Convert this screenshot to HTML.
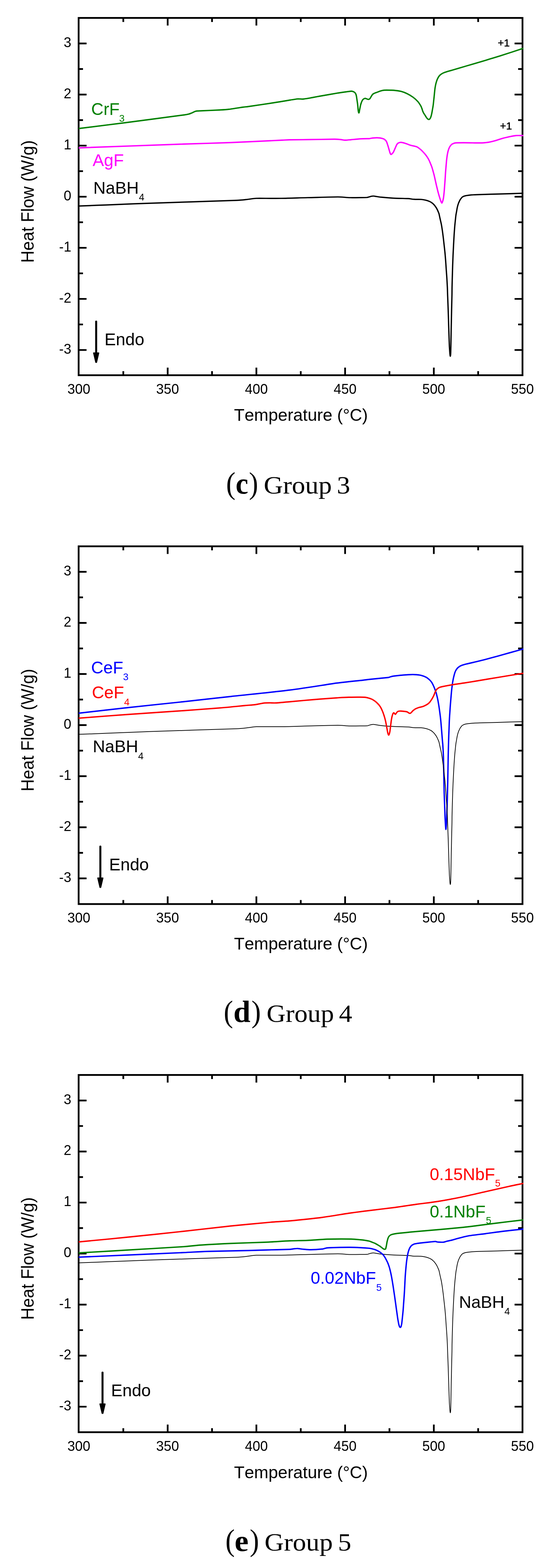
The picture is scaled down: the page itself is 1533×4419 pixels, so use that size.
<!DOCTYPE html>
<html lang="en"><head><meta charset="utf-8"><title>DSC heat flow curves</title>
<style>
html,body{margin:0;padding:0;background:#fff}
body{width:1533px;height:4419px;overflow:hidden}
svg{display:block}
.sa{font-family:"Liberation Sans",sans-serif;font-kerning:none}
.se{font-family:"Liberation Serif",serif;font-kerning:none}
.seb{font-family:"Liberation Serif",serif;font-kerning:none;font-weight:bold}
</style></head><body>
<svg width="1533" height="4419" viewBox="0 0 1533 4419">
<rect width="1533" height="4419" fill="#fff"/>
<g id="chart-c">
<rect x="221.60" y="50.50" width="1250.80" height="1007.00" fill="none" stroke="#000" stroke-width="5.0"/>
<path d="M347.50 1057.50v-11.40M347.50 50.50v11.40M472.50 1057.50v-21.60M472.50 50.50v21.60M597.50 1057.50v-11.40M597.50 50.50v11.40M722.50 1057.50v-21.60M722.50 50.50v21.60M847.50 1057.50v-11.40M847.50 50.50v11.40M972.50 1057.50v-21.60M972.50 50.50v21.60M1097.50 1057.50v-11.40M1097.50 50.50v11.40M1222.50 1057.50v-21.60M1222.50 50.50v21.60M1347.50 1057.50v-11.40M1347.50 50.50v11.40M221.60 986.39h22.30M1472.40 986.39h-22.30M221.60 914.39h12.30M1472.40 914.39h-12.30M221.60 842.40h22.30M1472.40 842.40h-22.30M221.60 770.40h12.30M1472.40 770.40h-12.30M221.60 698.41h22.30M1472.40 698.41h-22.30M221.60 626.41h12.30M1472.40 626.41h-12.30M221.60 554.42h22.30M1472.40 554.42h-22.30M221.60 482.42h12.30M1472.40 482.42h-12.30M221.60 410.42h22.30M1472.40 410.42h-22.30M221.60 338.43h12.30M1472.40 338.43h-12.30M221.60 266.43h22.30M1472.40 266.43h-22.30M221.60 194.44h12.30M1472.40 194.44h-12.30M221.60 122.44h22.30M1472.40 122.44h-22.30" fill="none" stroke="#000" stroke-width="4.9"/>
<text class="sa" transform="translate(189.97 1109.70) scale(0.9578 1)" font-size="40.30">300</text>
<text class="sa" transform="translate(439.97 1109.70) scale(0.9578 1)" font-size="40.30">350</text>
<text class="sa" transform="translate(690.26 1109.70) scale(0.9578 1)" font-size="40.30">400</text>
<text class="sa" transform="translate(940.26 1109.70) scale(0.9578 1)" font-size="40.30">450</text>
<text class="sa" transform="translate(1189.97 1109.70) scale(0.9578 1)" font-size="40.30">500</text>
<text class="sa" transform="translate(1439.97 1109.70) scale(0.9578 1)" font-size="40.30">550</text>
<text class="sa" transform="translate(200.90 996.59) scale(0.9578 1)" text-anchor="end" font-size="40.30">-3</text>
<text class="sa" transform="translate(200.90 852.60) scale(0.9578 1)" text-anchor="end" font-size="40.30">-2</text>
<text class="sa" transform="translate(200.90 708.61) scale(0.9578 1)" text-anchor="end" font-size="40.30">-1</text>
<text class="sa" transform="translate(200.90 564.62) scale(0.9578 1)" text-anchor="end" font-size="40.30">0</text>
<text class="sa" transform="translate(200.90 420.62) scale(0.9578 1)" text-anchor="end" font-size="40.30">1</text>
<text class="sa" transform="translate(200.90 276.63) scale(0.9578 1)" text-anchor="end" font-size="40.30">2</text>
<text class="sa" transform="translate(200.90 132.64) scale(0.9578 1)" text-anchor="end" font-size="40.30">3</text>
<text class="sa" transform="translate(659.59 1186.10) scale(0.9880 1)" font-size="49.00">Temperature (°C)</text>
<text class="sa" transform="translate(95.00 740.73) rotate(-90) scale(0.9667 1)" font-size="49.50">Heat Flow (W/g)</text>
<path d="M221.6 580.6C234.7 580.1 273.9 578.6 300.0 577.6C326.1 576.6 380.0 574.2 420.0 572.8C460.0 571.4 657.0 565.1 667.0 564.7C677.0 564.3 688.7 562.9 697.0 562.0C705.3 561.1 713.6 559.3 722.0 559.0C730.4 558.7 768.7 559.3 792.0 559.0C815.3 558.7 842.0 557.6 867.0 557.0C892.0 556.4 940.3 555.0 952.0 555.0C963.7 555.0 975.3 556.8 987.0 557.0C998.7 557.2 1032.6 556.6 1034.5 556.5C1036.4 556.4 1038.2 555.5 1040.0 555.0C1041.8 554.5 1044.0 553.7 1046.0 553.3C1048.0 552.9 1050.0 552.5 1052.0 552.5C1054.0 552.5 1056.0 553.0 1058.0 553.3C1060.0 553.6 1068.2 555.2 1073.3 555.7C1078.4 556.2 1095.5 557.7 1106.7 558.3C1117.9 558.9 1144.4 559.4 1150.0 559.7C1155.6 560.0 1161.1 561.3 1166.7 561.7C1172.3 562.1 1182.2 561.7 1186.7 562.0C1191.2 562.3 1196.7 563.4 1200.1 564.2C1203.5 565.0 1208.4 566.9 1210.1 567.6C1211.8 568.3 1213.5 569.2 1215.0 570.2C1216.5 571.2 1218.0 572.2 1219.4 573.4C1220.8 574.6 1222.1 575.9 1223.3 577.3C1224.5 578.7 1225.8 580.3 1226.9 581.8C1228.0 583.3 1229.1 584.9 1230.0 586.5C1230.9 588.1 1232.0 590.2 1232.8 591.9C1233.6 593.6 1234.3 595.3 1235.0 597.0C1235.7 598.7 1236.5 600.3 1237.0 602.0C1237.5 603.7 1239.2 612.0 1240.3 617.0C1241.4 622.0 1242.7 627.1 1243.7 632.1C1244.7 637.1 1245.4 642.2 1246.2 647.2C1247.0 652.2 1247.9 659.5 1248.7 665.7C1249.5 671.9 1250.4 680.2 1251.2 687.5C1252.0 694.8 1253.0 703.2 1253.8 711.0C1254.6 718.8 1255.2 726.7 1255.8 734.5C1256.4 742.3 1256.9 750.2 1257.4 758.0C1257.9 765.8 1258.6 773.7 1259.1 781.5C1259.6 789.3 1260.2 800.4 1260.6 808.3C1261.0 816.2 1261.1 824.1 1261.4 832.0C1261.7 839.9 1262.5 859.9 1263.0 873.9C1263.5 887.9 1263.9 902.7 1264.3 915.8C1264.7 928.9 1265.3 947.3 1265.6 955.0C1265.9 962.7 1266.2 973.0 1266.5 978.0C1266.8 983.0 1267.3 990.2 1267.5 993.0C1267.7 995.8 1268.3 1000.7 1268.4 1001.5C1268.5 1002.3 1268.8 1003.8 1269.0 1003.8C1269.2 1003.8 1269.5 1002.3 1269.6 1001.5C1269.7 1000.7 1270.1 994.7 1270.2 991.3C1270.3 987.9 1270.7 969.0 1270.9 957.8C1271.1 946.6 1271.4 929.8 1271.7 915.8C1272.0 901.8 1272.3 887.9 1272.6 873.9C1272.9 859.9 1273.4 839.9 1273.6 832.0C1273.8 824.1 1273.7 816.2 1273.9 808.3C1274.1 800.4 1274.4 788.2 1274.7 778.1C1275.0 768.0 1275.3 757.4 1275.6 747.9C1275.9 738.4 1276.3 728.9 1276.7 719.4C1277.1 709.9 1277.6 700.4 1278.1 690.9C1278.6 681.4 1279.3 668.0 1279.8 660.7C1280.3 653.4 1280.8 646.2 1281.4 638.9C1282.0 631.6 1283.2 621.0 1283.6 617.0C1284.0 613.0 1284.6 607.7 1285.0 605.0C1285.4 602.3 1286.0 599.6 1286.5 596.9C1287.0 594.2 1287.5 590.7 1288.0 588.0C1288.5 585.3 1289.2 582.3 1289.8 580.1C1290.4 577.9 1291.2 575.2 1291.8 573.5C1292.4 571.8 1293.2 570.1 1294.0 568.4C1294.8 566.7 1295.7 564.6 1296.7 563.0C1297.7 561.4 1299.1 559.4 1300.0 558.3C1300.9 557.2 1301.9 556.1 1303.0 555.3C1304.1 554.5 1305.4 553.8 1306.7 553.3C1308.0 552.8 1310.2 552.0 1312.0 551.6C1313.8 551.2 1316.2 550.9 1318.3 550.6C1320.4 550.3 1324.8 549.7 1328.0 549.4C1331.2 549.1 1334.7 549.0 1338.0 548.8C1341.3 548.6 1347.1 548.4 1351.7 548.3C1356.3 548.2 1385.0 547.4 1401.7 546.9C1418.4 546.4 1462.6 545.1 1474.8 544.7" fill="none" stroke="#000" stroke-width="3.7" stroke-linejoin="round"/>
<path d="M221.6 416.7C271.0 414.9 473.6 407.6 518.0 406.0C562.4 404.4 606.9 403.5 651.3 401.7C695.7 399.9 788.0 395.3 795.0 395.0C802.0 394.7 809.0 394.1 816.0 394.0C823.0 393.9 856.0 393.6 876.0 393.3C896.0 393.0 937.2 392.3 942.7 392.3C948.2 392.3 954.8 392.9 959.3 393.3C963.8 393.7 968.2 394.9 972.7 395.0C977.2 395.1 983.8 394.2 989.3 393.7C994.8 393.2 1008.0 391.8 1016.0 391.3C1024.0 390.8 1038.0 390.8 1040.0 390.7C1042.0 390.6 1044.0 389.9 1046.0 389.6C1048.0 389.3 1050.9 388.9 1053.3 388.7C1055.7 388.5 1059.3 388.3 1062.0 388.3C1064.7 388.3 1068.0 388.5 1070.0 388.7C1072.0 388.9 1074.1 389.3 1076.0 389.8C1077.9 390.3 1080.1 390.9 1081.7 391.7C1083.3 392.5 1084.7 393.7 1086.0 395.0C1087.3 396.3 1088.5 397.7 1089.3 399.3C1090.1 400.9 1090.8 403.4 1091.5 405.5C1092.2 407.6 1093.2 410.7 1094.0 413.3C1094.8 415.9 1095.5 418.6 1096.2 421.0C1096.9 423.4 1097.8 426.7 1098.3 428.3C1098.8 429.9 1099.6 432.1 1100.0 433.0C1100.4 433.9 1101.0 435.1 1101.7 435.3C1102.4 435.5 1103.3 434.5 1104.0 434.0C1104.7 433.5 1105.4 432.7 1106.0 432.0C1106.6 431.3 1107.7 430.3 1108.3 429.3C1108.9 428.3 1110.0 425.8 1110.8 424.0C1111.6 422.2 1112.5 420.2 1113.3 418.3C1114.1 416.4 1115.0 414.3 1115.8 412.5C1116.6 410.7 1117.7 408.3 1118.3 407.3C1118.9 406.3 1119.7 405.3 1120.5 404.5C1121.3 403.7 1122.3 403.2 1123.3 402.7C1124.3 402.2 1125.4 401.8 1126.5 401.6C1127.6 401.4 1128.8 401.2 1130.0 401.3C1131.2 401.4 1133.3 401.7 1135.0 402.0C1136.7 402.3 1138.4 402.8 1140.0 403.3C1141.6 403.8 1145.4 405.0 1148.0 406.0C1150.6 407.0 1153.7 408.4 1156.7 409.3C1159.7 410.2 1163.0 410.7 1166.0 411.5C1169.0 412.3 1172.8 413.0 1175.0 414.0C1177.2 415.0 1179.1 416.6 1181.0 418.0C1182.9 419.4 1184.9 421.0 1186.7 422.7C1188.5 424.4 1190.6 426.5 1192.5 428.5C1194.4 430.5 1196.5 432.8 1198.3 435.0C1200.1 437.2 1201.9 439.6 1203.5 442.0C1205.1 444.4 1206.9 447.2 1208.3 450.0C1209.7 452.8 1211.2 456.3 1212.5 459.5C1213.8 462.7 1215.5 466.4 1216.7 470.0C1217.9 473.6 1219.0 477.3 1220.0 481.0C1221.0 484.7 1222.3 489.2 1223.3 493.3C1224.3 497.4 1225.3 502.1 1226.3 506.5C1227.3 510.9 1228.4 516.0 1229.3 520.0C1230.2 524.0 1231.3 528.2 1232.2 532.0C1233.1 535.8 1234.2 540.4 1235.0 543.3C1235.8 546.2 1236.7 549.3 1237.5 552.0C1238.3 554.7 1239.2 557.5 1240.0 560.0C1240.8 562.5 1241.8 565.9 1242.5 567.5C1243.2 569.1 1244.2 572.0 1245.0 572.2C1245.8 572.4 1246.5 569.8 1247.0 568.5C1247.5 567.2 1248.7 562.9 1249.3 560.0C1249.9 557.1 1250.4 552.7 1250.8 549.0C1251.2 545.3 1251.7 540.8 1252.0 536.7C1252.3 532.6 1252.7 527.3 1253.0 523.0C1253.3 518.7 1253.7 514.3 1254.0 510.0C1254.3 505.7 1254.7 500.0 1255.0 495.0C1255.3 490.0 1255.6 484.7 1256.0 480.0C1256.4 475.3 1256.8 470.2 1257.2 466.0C1257.6 461.8 1257.9 457.4 1258.3 453.3C1258.7 449.2 1259.3 444.7 1259.8 441.0C1260.3 437.3 1261.1 432.9 1261.7 430.0C1262.3 427.1 1263.3 423.7 1264.0 421.5C1264.7 419.3 1265.8 416.8 1266.7 415.0C1267.6 413.2 1269.0 411.2 1270.0 410.0C1271.0 408.8 1272.0 407.6 1273.3 406.7C1274.6 405.8 1276.4 404.9 1278.0 404.2C1279.6 403.5 1281.5 402.8 1283.3 402.7C1285.1 402.6 1298.9 402.3 1306.7 402.3C1314.5 402.3 1331.2 402.6 1338.0 402.7C1344.8 402.8 1355.1 402.8 1358.3 402.7C1361.5 402.6 1364.8 402.3 1368.0 402.0C1371.2 401.7 1374.9 401.4 1378.3 400.7C1381.7 400.0 1389.5 398.3 1395.0 396.7C1400.5 395.1 1410.6 391.4 1418.3 389.3C1426.0 387.2 1437.3 384.9 1441.7 384.0C1446.1 383.1 1450.5 382.3 1455.0 382.0C1459.5 381.7 1471.5 382.0 1474.8 382.0" fill="none" stroke="#ff00ff" stroke-width="3.9" stroke-linejoin="round"/>
<path d="M221.6 362.3C243.6 359.5 309.4 351.4 353.3 345.7C397.2 340.0 513.5 324.6 518.0 324.0C522.5 323.4 528.3 322.4 531.3 321.7C534.3 321.0 537.1 319.7 540.0 318.5C542.9 317.3 547.7 314.7 549.7 314.0C551.7 313.3 553.9 313.0 556.0 312.8C558.1 312.6 564.0 312.5 568.0 312.3C572.0 312.1 609.1 310.5 618.0 310.0C626.9 309.5 635.8 309.1 644.7 308.0C653.6 306.9 679.6 302.7 684.7 302.0C689.8 301.3 694.9 301.0 700.0 300.3C705.1 299.6 750.2 292.9 767.0 290.3C783.8 287.7 813.9 282.6 817.4 282.0C820.9 281.4 824.7 280.9 828.0 280.4C831.3 279.9 835.3 279.1 838.0 278.9C840.7 278.7 843.3 278.9 846.0 278.9C848.7 278.9 851.3 279.4 854.0 279.2C856.7 279.0 862.0 278.2 866.0 277.6C870.0 277.0 875.3 275.9 880.0 275.0C884.7 274.1 894.2 272.3 901.3 271.0C908.4 269.7 940.4 264.2 949.3 262.7C958.2 261.2 971.6 259.3 976.0 258.7C980.4 258.1 987.7 257.1 989.3 257.0C990.9 256.9 992.7 257.2 994.0 257.6C995.3 258.0 996.7 258.7 997.7 259.3C998.7 259.9 999.7 260.6 1000.5 261.5C1001.3 262.4 1002.2 263.7 1002.7 265.0C1003.2 266.3 1003.8 268.3 1004.2 270.0C1004.6 271.7 1005.0 274.5 1005.3 276.7C1005.6 278.9 1007.0 287.8 1007.7 293.3C1008.4 298.9 1009.1 308.0 1009.3 310.0C1009.5 312.0 1010.1 315.2 1010.3 316.0C1010.5 316.8 1011.0 318.3 1011.3 318.3C1011.6 318.3 1012.1 316.8 1012.3 316.0C1012.5 315.2 1012.9 312.0 1013.3 310.0C1013.7 308.0 1015.5 299.0 1016.0 296.7C1016.5 294.4 1017.4 291.7 1018.0 290.0C1018.6 288.3 1019.4 286.2 1020.0 285.0C1020.6 283.8 1021.4 282.3 1022.0 281.5C1022.6 280.7 1023.5 279.9 1024.3 279.3C1025.1 278.7 1026.3 278.1 1027.0 277.8C1027.7 277.5 1028.5 277.3 1029.3 277.3C1030.1 277.3 1031.2 277.7 1032.0 278.0C1032.8 278.3 1033.5 278.7 1034.3 279.0C1035.1 279.3 1036.2 279.8 1037.0 280.0C1037.8 280.2 1038.6 280.2 1039.3 280.0C1040.0 279.8 1040.9 279.3 1041.5 278.8C1042.1 278.3 1042.8 277.5 1043.3 276.7C1043.8 275.9 1047.0 270.4 1047.7 269.3C1048.4 268.2 1049.2 266.8 1050.0 266.0C1050.8 265.2 1051.7 264.6 1052.7 264.0C1053.7 263.4 1055.5 262.6 1057.0 262.0C1058.5 261.4 1060.8 260.7 1062.7 260.0C1064.6 259.3 1066.9 258.3 1069.0 257.5C1071.1 256.7 1074.0 255.8 1076.0 255.3C1078.0 254.8 1080.0 254.5 1082.0 254.3C1084.0 254.1 1086.9 254.0 1089.3 254.0C1091.7 254.0 1098.0 254.0 1102.0 254.2C1106.0 254.4 1110.0 254.5 1114.0 255.0C1118.0 255.5 1125.3 256.2 1130.7 257.7C1136.1 259.2 1142.0 261.4 1147.3 264.0C1152.6 266.6 1159.2 270.5 1164.0 274.0C1168.8 277.5 1174.0 282.3 1177.3 286.0C1180.6 289.7 1184.3 295.9 1185.7 298.3C1187.1 300.7 1188.1 303.6 1189.0 306.0C1189.9 308.4 1190.5 311.3 1191.3 313.3C1192.1 315.3 1193.0 317.3 1194.0 319.0C1195.0 320.7 1196.2 322.3 1197.3 324.0C1198.4 325.7 1200.1 328.6 1201.0 330.0C1201.9 331.4 1203.3 333.2 1204.0 334.0C1204.7 334.8 1206.0 335.9 1206.5 336.2C1207.0 336.5 1207.7 336.8 1208.3 336.7C1208.9 336.6 1209.9 336.4 1210.5 335.8C1211.1 335.2 1212.6 333.2 1213.3 331.7C1214.0 330.2 1214.9 327.3 1215.5 325.0C1216.1 322.7 1216.8 319.5 1217.3 316.7C1217.8 313.9 1218.4 310.2 1219.0 307.0C1219.6 303.8 1220.2 300.1 1220.7 296.7C1221.2 293.3 1221.6 288.9 1222.0 285.0C1222.4 281.1 1222.9 277.2 1223.3 273.3C1223.7 269.4 1224.1 264.7 1224.5 261.0C1224.9 257.3 1225.3 253.0 1225.7 250.0C1226.1 247.0 1226.7 243.6 1227.2 241.0C1227.7 238.4 1228.3 235.8 1229.0 233.3C1229.7 230.8 1230.5 228.1 1231.3 226.0C1232.1 223.9 1233.1 221.7 1234.0 220.0C1234.9 218.3 1235.9 216.5 1237.0 215.0C1238.1 213.5 1239.4 212.2 1240.7 211.0C1242.0 209.8 1243.5 208.7 1245.0 207.8C1246.5 206.9 1248.7 205.8 1250.7 205.0C1252.7 204.2 1254.9 203.5 1257.0 202.8C1259.1 202.1 1261.7 201.4 1264.0 200.7C1266.3 200.0 1297.3 190.9 1314.0 186.0C1330.7 181.1 1348.0 176.1 1364.0 171.3C1380.0 166.5 1396.1 161.7 1412.0 156.7C1427.9 151.7 1464.3 139.6 1474.8 136.2" fill="none" stroke="#008000" stroke-width="3.9" stroke-linejoin="round"/>
<text class="sa" transform="translate(257.10 323.50) scale(0.9796 1)" font-size="49.00" fill="#008000">CrF<tspan x="80.33" y="19.00" font-size="28.20">3</tspan></text>
<text class="sa" transform="translate(261.06 468.20) scale(0.9796 1)" font-size="49.00" fill="#ff00ff">AgF</text>
<text class="sa" transform="translate(263.06 545.50) scale(0.9796 1)" font-size="49.00">NaBH<tspan x="131.13" y="19.40" font-size="28.20">4</tspan></text>
<text class="sa" transform="translate(1402.72 130.80) scale(1.0034 1)" font-size="29.50" stroke="#000" stroke-width="0.7">+1</text>
<text class="sa" transform="translate(1408.92 364.70) scale(1.0034 1)" font-size="29.50" stroke="#000" stroke-width="0.7">+1</text>
<path d="M271.00 906.20V999.20" stroke="#000" stroke-width="5.6" stroke-linecap="round" fill="none"/>
<path d="M263.80 994.70H278.20L272.00 1021.20H270.00Z" fill="#000" stroke="#000" stroke-width="3" stroke-linejoin="round"/>
<text class="sa" transform="translate(294.56 972.80) scale(0.9796 1)" font-size="49.00">Endo</text>
<text class="se" transform="translate(637.14 1390.58) scale(0.9129 1)" font-size="86.78">(</text>
<text class="seb" transform="translate(664.09 1391.45) scale(0.9396 1)" font-size="85.42">c</text>
<text class="se" transform="translate(701.47 1390.58) scale(0.8953 1)" font-size="86.78">)</text>
<text class="se" transform="translate(743.30 1391.20) scale(1.0648 1)" font-size="70.50" style="word-spacing:-0.06em">Group 3</text>
</g>
<g id="chart-d">
<rect x="221.60" y="1539.65" width="1250.80" height="1008.20" fill="none" stroke="#000" stroke-width="5.0"/>
<path d="M347.50 2547.85v-11.40M347.50 1539.65v11.40M472.50 2547.85v-21.60M472.50 1539.65v21.60M597.50 2547.85v-11.40M597.50 1539.65v11.40M722.50 2547.85v-21.60M722.50 1539.65v21.60M847.50 2547.85v-11.40M847.50 1539.65v11.40M972.50 2547.85v-21.60M972.50 1539.65v21.60M1097.50 2547.85v-11.40M1097.50 1539.65v11.40M1222.50 2547.85v-21.60M1222.50 1539.65v21.60M1347.50 2547.85v-11.40M1347.50 1539.65v11.40M221.60 2475.44h22.30M1472.40 2475.44h-22.30M221.60 2403.44h12.30M1472.40 2403.44h-12.30M221.60 2331.44h22.30M1472.40 2331.44h-22.30M221.60 2259.44h12.30M1472.40 2259.44h-12.30M221.60 2187.44h22.30M1472.40 2187.44h-22.30M221.60 2115.44h12.30M1472.40 2115.44h-12.30M221.60 2043.44h22.30M1472.40 2043.44h-22.30M221.60 1971.44h12.30M1472.40 1971.44h-12.30M221.60 1899.44h22.30M1472.40 1899.44h-22.30M221.60 1827.44h12.30M1472.40 1827.44h-12.30M221.60 1755.44h22.30M1472.40 1755.44h-22.30M221.60 1683.44h12.30M1472.40 1683.44h-12.30M221.60 1611.44h22.30M1472.40 1611.44h-22.30" fill="none" stroke="#000" stroke-width="4.9"/>
<text class="sa" transform="translate(189.97 2600.05) scale(0.9578 1)" font-size="40.30">300</text>
<text class="sa" transform="translate(439.97 2600.05) scale(0.9578 1)" font-size="40.30">350</text>
<text class="sa" transform="translate(690.26 2600.05) scale(0.9578 1)" font-size="40.30">400</text>
<text class="sa" transform="translate(940.26 2600.05) scale(0.9578 1)" font-size="40.30">450</text>
<text class="sa" transform="translate(1189.97 2600.05) scale(0.9578 1)" font-size="40.30">500</text>
<text class="sa" transform="translate(1439.97 2600.05) scale(0.9578 1)" font-size="40.30">550</text>
<text class="sa" transform="translate(200.90 2485.64) scale(0.9578 1)" text-anchor="end" font-size="40.30">-3</text>
<text class="sa" transform="translate(200.90 2341.64) scale(0.9578 1)" text-anchor="end" font-size="40.30">-2</text>
<text class="sa" transform="translate(200.90 2197.64) scale(0.9578 1)" text-anchor="end" font-size="40.30">-1</text>
<text class="sa" transform="translate(200.90 2053.64) scale(0.9578 1)" text-anchor="end" font-size="40.30">0</text>
<text class="sa" transform="translate(200.90 1909.64) scale(0.9578 1)" text-anchor="end" font-size="40.30">1</text>
<text class="sa" transform="translate(200.90 1765.64) scale(0.9578 1)" text-anchor="end" font-size="40.30">2</text>
<text class="sa" transform="translate(200.90 1621.64) scale(0.9578 1)" text-anchor="end" font-size="40.30">3</text>
<text class="sa" transform="translate(659.59 2676.45) scale(0.9880 1)" font-size="49.00">Temperature (°C)</text>
<text class="sa" transform="translate(95.00 2230.48) rotate(-90) scale(0.9667 1)" font-size="49.50">Heat Flow (W/g)</text>
<path d="M221.6 2010.0C243.6 2007.5 309.4 1999.8 353.3 1995.0C397.2 1990.2 473.6 1982.3 518.0 1977.5C562.4 1972.7 606.9 1967.6 651.3 1962.7C695.7 1957.8 771.4 1950.4 816.0 1944.8C860.6 1939.2 924.9 1928.3 949.3 1925.0C973.7 1921.7 1016.9 1917.7 1022.7 1917.0C1028.5 1916.3 1034.2 1915.3 1040.0 1914.7C1045.8 1914.1 1093.2 1909.5 1095.0 1909.3C1096.8 1909.1 1098.3 1908.0 1100.0 1907.5C1101.7 1907.0 1104.4 1906.0 1106.7 1905.7C1109.0 1905.4 1127.7 1903.2 1133.3 1902.7C1138.9 1902.2 1145.6 1901.8 1150.0 1901.5C1154.4 1901.2 1159.7 1901.0 1163.3 1901.0C1166.9 1901.0 1170.9 1901.2 1174.0 1901.5C1177.1 1901.8 1181.0 1902.3 1183.3 1902.7C1185.6 1903.1 1187.8 1903.6 1190.0 1904.3C1192.2 1905.0 1194.9 1905.9 1196.7 1906.7C1198.5 1907.5 1200.3 1908.3 1202.0 1909.3C1203.7 1910.3 1205.2 1911.5 1206.7 1912.7C1208.2 1913.9 1210.4 1915.8 1212.0 1917.5C1213.6 1919.2 1215.4 1921.4 1216.7 1923.3C1218.0 1925.2 1219.0 1927.4 1220.0 1929.5C1221.0 1931.6 1222.3 1934.3 1223.3 1936.7C1224.3 1939.1 1225.4 1941.9 1226.3 1944.5C1227.2 1947.1 1228.4 1950.3 1229.3 1953.3C1230.2 1956.3 1230.9 1959.8 1231.7 1963.0C1232.5 1966.2 1233.3 1969.8 1234.0 1973.3C1234.7 1976.8 1235.5 1981.8 1236.2 1986.0C1236.9 1990.2 1237.7 1995.3 1238.3 2000.0C1238.9 2004.7 1240.8 2017.8 1241.7 2026.7C1242.6 2035.6 1243.5 2046.7 1244.3 2056.7C1245.1 2066.7 1246.3 2082.3 1246.7 2086.7C1247.1 2091.1 1247.6 2095.6 1247.9 2100.0C1248.2 2104.4 1249.2 2122.4 1249.6 2133.6C1250.0 2144.8 1250.4 2167.1 1250.7 2183.9C1251.0 2200.7 1251.4 2223.0 1251.7 2234.2C1252.0 2245.4 1252.5 2256.6 1252.9 2267.8C1253.3 2279.0 1253.8 2293.2 1254.1 2301.3C1254.4 2309.4 1255.2 2322.3 1255.4 2325.5C1255.6 2328.7 1256.1 2334.4 1256.2 2335.2C1256.3 2336.0 1256.5 2337.5 1256.6 2337.5C1256.7 2337.5 1256.9 2336.0 1257.0 2335.2C1257.1 2334.4 1257.6 2328.7 1257.8 2325.5C1258.0 2322.3 1258.5 2309.4 1258.8 2301.3C1259.1 2293.2 1259.7 2279.0 1260.1 2267.8C1260.5 2256.6 1260.7 2245.4 1261.0 2234.2C1261.3 2223.0 1261.8 2200.7 1262.1 2183.9C1262.4 2167.1 1262.8 2144.8 1263.0 2133.6C1263.2 2122.4 1263.6 2107.8 1263.8 2100.0C1264.0 2092.2 1264.3 2083.4 1264.5 2076.7C1264.7 2070.0 1265.0 2063.4 1265.3 2056.7C1265.6 2050.0 1266.0 2035.6 1266.3 2030.0C1266.6 2024.4 1266.9 2018.9 1267.3 2013.3C1267.7 2007.7 1268.2 2000.0 1268.6 1994.0C1269.0 1988.0 1269.5 1982.0 1270.0 1976.0C1270.5 1970.0 1271.1 1962.7 1271.6 1957.0C1272.1 1951.3 1272.7 1945.0 1273.3 1940.0C1273.9 1935.0 1274.6 1928.9 1275.2 1925.0C1275.8 1921.1 1276.7 1916.4 1277.3 1913.3C1277.9 1910.2 1278.8 1906.6 1279.5 1904.0C1280.2 1901.4 1281.1 1898.1 1281.7 1896.2C1282.3 1894.3 1283.2 1892.1 1284.0 1890.5C1284.8 1888.9 1285.7 1887.4 1286.7 1886.0C1287.7 1884.6 1289.0 1883.0 1290.0 1882.0C1291.0 1881.0 1292.1 1880.1 1293.3 1879.3C1294.5 1878.5 1296.4 1877.3 1298.0 1876.5C1299.6 1875.7 1301.5 1874.9 1303.3 1874.3C1305.1 1873.7 1307.7 1872.9 1310.0 1872.3C1312.3 1871.7 1316.7 1870.8 1320.0 1870.0C1323.3 1869.2 1330.0 1867.7 1335.0 1866.5C1340.0 1865.3 1357.2 1861.2 1368.3 1858.3C1379.4 1855.4 1390.6 1852.3 1401.7 1849.3C1412.8 1846.3 1423.9 1843.1 1435.0 1840.0C1446.1 1836.9 1468.2 1830.7 1474.8 1828.8" fill="none" stroke="#0000ff" stroke-width="3.9" stroke-linejoin="round"/>
<path d="M221.6 2069.6C234.7 2069.1 273.9 2067.7 300.0 2066.6C326.1 2065.6 380.0 2063.2 420.0 2061.8C460.0 2060.4 657.0 2054.1 667.0 2053.7C677.0 2053.3 688.7 2051.9 697.0 2051.0C705.3 2050.2 713.6 2048.3 722.0 2048.0C730.4 2047.8 768.7 2048.3 792.0 2048.0C815.3 2047.7 842.0 2046.7 867.0 2046.0C892.0 2045.4 940.3 2044.0 952.0 2044.0C963.7 2044.0 975.3 2045.8 987.0 2046.0C998.7 2046.2 1032.6 2045.6 1034.5 2045.5C1036.4 2045.5 1038.2 2044.5 1040.0 2044.0C1041.8 2043.5 1044.0 2042.7 1046.0 2042.3C1048.0 2041.9 1050.0 2041.5 1052.0 2041.5C1054.0 2041.5 1056.0 2042.0 1058.0 2042.3C1060.0 2042.6 1068.2 2044.2 1073.3 2044.7C1078.4 2045.3 1095.5 2046.7 1106.7 2047.3C1117.9 2047.9 1144.4 2048.4 1150.0 2048.7C1155.6 2049.0 1161.1 2050.4 1166.7 2050.7C1172.3 2051.1 1182.2 2050.7 1186.7 2051.0C1191.2 2051.4 1196.7 2052.4 1200.1 2053.2C1203.5 2054.0 1208.4 2055.9 1210.1 2056.6C1211.8 2057.3 1213.5 2058.3 1215.0 2059.2C1216.5 2060.2 1218.0 2061.2 1219.4 2062.4C1220.8 2063.6 1222.1 2065.0 1223.3 2066.3C1224.5 2067.7 1225.8 2069.3 1226.9 2070.8C1228.0 2072.3 1229.1 2073.9 1230.0 2075.5C1230.9 2077.1 1232.0 2079.3 1232.8 2080.9C1233.6 2082.6 1234.3 2084.4 1235.0 2086.0C1235.7 2087.7 1236.5 2089.3 1237.0 2091.0C1237.5 2092.8 1239.2 2101.0 1240.3 2106.0C1241.4 2111.0 1242.7 2116.1 1243.7 2121.1C1244.7 2126.1 1245.4 2131.2 1246.2 2136.2C1247.0 2141.3 1247.9 2148.6 1248.7 2154.7C1249.5 2160.9 1250.4 2169.3 1251.2 2176.5C1252.0 2183.8 1253.0 2192.2 1253.8 2200.0C1254.6 2207.9 1255.2 2215.7 1255.8 2223.5C1256.4 2231.4 1256.9 2239.2 1257.4 2247.0C1257.9 2254.9 1258.6 2262.7 1259.1 2270.5C1259.6 2278.4 1260.2 2289.4 1260.6 2297.3C1261.0 2305.2 1261.1 2313.1 1261.4 2321.0C1261.7 2328.9 1262.5 2349.0 1263.0 2362.9C1263.5 2376.9 1263.9 2391.8 1264.3 2404.8C1264.7 2417.9 1265.3 2436.4 1265.6 2444.0C1265.9 2451.7 1266.2 2462.0 1266.5 2467.0C1266.8 2472.1 1267.3 2479.2 1267.5 2482.1C1267.7 2484.9 1268.3 2489.8 1268.4 2490.6C1268.5 2491.3 1268.8 2492.9 1269.0 2492.9C1269.2 2492.9 1269.5 2491.3 1269.6 2490.6C1269.7 2489.8 1270.1 2483.8 1270.2 2480.4C1270.3 2476.9 1270.7 2458.0 1270.9 2446.8C1271.1 2435.7 1271.4 2418.8 1271.7 2404.8C1272.0 2390.9 1272.3 2376.9 1272.6 2362.9C1272.9 2349.0 1273.4 2328.9 1273.6 2321.0C1273.8 2313.1 1273.7 2305.2 1273.9 2297.3C1274.1 2289.4 1274.4 2277.2 1274.7 2267.1C1275.0 2257.1 1275.3 2246.4 1275.6 2236.9C1275.9 2227.4 1276.3 2217.9 1276.7 2208.4C1277.1 2198.9 1277.6 2189.4 1278.1 2179.9C1278.6 2170.4 1279.3 2157.0 1279.8 2149.7C1280.3 2142.5 1280.8 2135.2 1281.4 2127.9C1282.0 2120.7 1283.2 2110.0 1283.6 2106.0C1284.0 2102.0 1284.6 2096.7 1285.0 2094.0C1285.4 2091.3 1286.0 2088.6 1286.5 2085.9C1287.0 2083.2 1287.5 2079.7 1288.0 2077.0C1288.5 2074.4 1289.2 2071.4 1289.8 2069.1C1290.4 2066.9 1291.2 2064.3 1291.8 2062.5C1292.4 2060.8 1293.2 2059.1 1294.0 2057.4C1294.8 2055.7 1295.7 2053.7 1296.7 2052.0C1297.7 2050.4 1299.1 2048.4 1300.0 2047.3C1300.9 2046.2 1301.9 2045.2 1303.0 2044.3C1304.1 2043.5 1305.4 2042.9 1306.7 2042.3C1308.0 2041.8 1310.2 2041.0 1312.0 2040.6C1313.8 2040.2 1316.2 2039.9 1318.3 2039.6C1320.4 2039.3 1324.8 2038.7 1328.0 2038.4C1331.2 2038.1 1334.7 2038.0 1338.0 2037.8C1341.3 2037.7 1347.1 2037.5 1351.7 2037.3C1356.3 2037.2 1385.0 2036.4 1401.7 2035.9C1418.4 2035.4 1462.6 2034.1 1474.8 2033.8" fill="none" stroke="#000" stroke-width="2.0" stroke-linejoin="round"/>
<path d="M221.6 2024.0C243.6 2022.3 309.4 2017.2 353.3 2014.0C397.2 2010.8 484.7 2005.1 518.0 2002.7C551.3 2000.3 593.5 1997.3 618.0 1995.3C642.5 1993.3 682.4 1989.1 691.3 1988.3C700.2 1987.5 713.3 1986.6 718.0 1986.0C722.7 1985.4 727.8 1984.2 732.0 1983.5C736.2 1982.8 740.4 1981.7 744.7 1981.3C749.0 1980.9 754.9 1980.8 760.0 1980.8C765.1 1980.8 772.0 1981.3 778.0 1981.0C784.0 1980.7 803.3 1978.8 816.0 1977.7C828.7 1976.6 860.5 1973.5 882.7 1971.7C904.9 1969.9 938.2 1967.4 949.3 1966.7C960.4 1966.0 971.6 1965.2 982.7 1965.0C993.8 1964.8 1023.3 1964.9 1026.0 1965.0C1028.7 1965.1 1032.0 1965.6 1034.0 1966.0C1036.0 1966.4 1038.0 1967.1 1040.0 1967.7C1042.0 1968.3 1044.0 1969.0 1046.0 1969.8C1048.0 1970.6 1050.1 1971.6 1052.0 1972.8C1053.9 1974.0 1056.1 1975.5 1058.0 1977.0C1059.9 1978.5 1062.1 1980.6 1064.0 1982.5C1065.9 1984.4 1068.7 1987.5 1070.0 1989.3C1071.3 1991.1 1072.4 1993.0 1073.5 1995.0C1074.6 1997.0 1075.8 1999.6 1076.7 2001.7C1077.6 2003.8 1078.5 2005.9 1079.3 2008.0C1080.1 2010.1 1080.9 2012.7 1081.7 2015.0C1082.5 2017.3 1083.3 2020.0 1084.0 2022.5C1084.7 2025.0 1085.4 2027.5 1086.0 2030.0C1086.6 2032.5 1087.2 2035.3 1087.7 2038.0C1088.2 2040.7 1088.8 2043.9 1089.3 2046.7C1089.8 2049.5 1090.3 2052.2 1090.8 2055.0C1091.3 2057.8 1091.9 2061.4 1092.3 2063.3C1092.7 2065.2 1093.5 2068.0 1093.8 2069.0C1094.1 2070.0 1094.8 2071.8 1095.3 2071.7C1095.8 2071.6 1096.6 2069.6 1097.0 2068.5C1097.4 2067.4 1098.3 2064.0 1098.7 2061.7C1099.1 2059.4 1099.6 2054.9 1100.0 2052.0C1100.4 2049.1 1100.6 2046.2 1101.0 2043.3C1101.4 2040.4 1101.9 2036.4 1102.2 2034.0C1102.5 2031.6 1102.9 2028.9 1103.3 2026.7C1103.7 2024.5 1104.2 2021.7 1104.6 2020.0C1105.0 2018.3 1105.6 2016.4 1106.0 2015.0C1106.4 2013.6 1107.1 2011.7 1107.5 2011.0C1107.9 2010.3 1108.6 2009.3 1109.0 2009.0C1109.4 2008.7 1110.1 2009.0 1110.5 2009.3C1110.9 2009.6 1111.3 2010.2 1111.7 2010.7C1112.1 2011.2 1113.3 2013.2 1114.0 2013.3C1114.7 2013.3 1115.4 2011.8 1116.0 2011.0C1116.6 2010.2 1117.6 2008.5 1118.3 2007.7C1119.0 2006.9 1119.7 2006.1 1120.5 2005.5C1121.3 2004.9 1122.3 2004.5 1123.3 2004.3C1124.3 2004.1 1127.8 2003.8 1130.0 2004.0C1132.2 2004.2 1145.4 2005.7 1146.7 2006.0C1148.0 2006.3 1148.9 2007.3 1150.0 2008.0C1151.1 2008.7 1152.2 2009.7 1153.3 2010.0C1154.4 2010.3 1155.7 2010.5 1156.7 2010.0C1157.7 2009.5 1159.0 2008.1 1160.0 2007.0C1161.0 2005.9 1162.1 2004.4 1163.3 2003.3C1164.5 2002.2 1166.1 2001.0 1167.5 2000.0C1168.9 1999.0 1170.2 1998.0 1171.7 1997.3C1173.2 1996.6 1177.2 1994.9 1180.0 1994.0C1182.8 1993.1 1188.3 1992.2 1190.0 1991.7C1191.7 1991.2 1193.4 1990.5 1195.0 1989.8C1196.6 1989.1 1198.5 1988.1 1200.0 1987.3C1201.5 1986.5 1203.2 1985.6 1204.5 1984.7C1205.8 1983.8 1207.1 1982.8 1208.3 1981.7C1209.5 1980.6 1210.9 1979.2 1212.0 1977.8C1213.1 1976.4 1214.0 1974.8 1215.0 1973.3C1216.0 1971.8 1217.4 1969.6 1218.5 1967.7C1219.6 1965.8 1220.7 1963.7 1221.7 1961.7C1222.7 1959.7 1223.5 1957.6 1224.3 1955.5C1225.1 1953.4 1226.0 1950.8 1226.7 1949.3C1227.4 1947.8 1228.2 1946.2 1229.0 1945.0C1229.8 1943.8 1230.7 1942.6 1231.7 1941.7C1232.7 1940.8 1233.9 1940.0 1235.0 1939.3C1236.1 1938.6 1237.1 1937.7 1238.3 1937.3C1239.5 1936.9 1243.9 1935.6 1246.7 1935.0C1249.5 1934.4 1264.4 1931.5 1273.3 1930.0C1282.2 1928.5 1296.3 1926.6 1306.7 1925.0C1317.1 1923.4 1327.6 1921.7 1338.0 1920.0C1348.4 1918.3 1380.5 1912.8 1401.7 1909.3C1422.9 1905.8 1462.6 1899.4 1474.8 1897.4" fill="none" stroke="#ff0000" stroke-width="3.9" stroke-linejoin="round"/>
<text class="sa" transform="translate(256.70 1897.50) scale(0.9796 1)" font-size="49.00" fill="#0000ff">CeF<tspan x="91.97" y="19.50" font-size="28.20">3</tspan></text>
<text class="sa" transform="translate(258.90 1968.40) scale(0.9796 1)" font-size="49.00" fill="#ff0000">CeF<tspan x="92.70" y="19.30" font-size="28.20">4</tspan></text>
<text class="sa" transform="translate(261.46 2120.30) scale(0.9796 1)" font-size="49.00">NaBH<tspan x="130.51" y="19.60" font-size="28.20">4</tspan></text>
<path d="M282.80 2385.90V2478.90" stroke="#000" stroke-width="5.6" stroke-linecap="round" fill="none"/>
<path d="M275.60 2474.40H290.00L283.80 2500.90H281.80Z" fill="#000" stroke="#000" stroke-width="3" stroke-linejoin="round"/>
<text class="sa" transform="translate(307.46 2452.80) scale(0.9796 1)" font-size="49.00">Endo</text>
<text class="se" transform="translate(630.44 2879.59) scale(0.9187 1)" font-size="86.22">(</text>
<text class="seb" transform="translate(657.85 2880.43) scale(0.9973 1)" font-size="86.57">d</text>
<text class="se" transform="translate(708.60 2879.59) scale(0.9278 1)" font-size="86.22">)</text>
<text class="se" transform="translate(751.23 2879.70) scale(1.0543 1)" font-size="70.50" style="word-spacing:-0.06em">Group 4</text>
</g>
<g id="chart-e">
<rect x="221.60" y="3029.50" width="1250.80" height="1006.80" fill="none" stroke="#000" stroke-width="5.0"/>
<path d="M347.50 4036.30v-11.40M347.50 3029.50v11.40M472.50 4036.30v-21.60M472.50 3029.50v21.60M597.50 4036.30v-11.40M597.50 3029.50v11.40M722.50 4036.30v-21.60M722.50 3029.50v21.60M847.50 4036.30v-11.40M847.50 3029.50v11.40M972.50 4036.30v-21.60M972.50 3029.50v21.60M1097.50 4036.30v-11.40M1097.50 3029.50v11.40M1222.50 4036.30v-21.60M1222.50 3029.50v21.60M1347.50 4036.30v-11.40M1347.50 3029.50v11.40M221.60 3964.40h22.30M1472.40 3964.40h-22.30M221.60 3892.49h12.30M1472.40 3892.49h-12.30M221.60 3820.57h22.30M1472.40 3820.57h-22.30M221.60 3748.66h12.30M1472.40 3748.66h-12.30M221.60 3676.75h22.30M1472.40 3676.75h-22.30M221.60 3604.83h12.30M1472.40 3604.83h-12.30M221.60 3532.92h22.30M1472.40 3532.92h-22.30M221.60 3461.01h12.30M1472.40 3461.01h-12.30M221.60 3389.09h22.30M1472.40 3389.09h-22.30M221.60 3317.18h12.30M1472.40 3317.18h-12.30M221.60 3245.27h22.30M1472.40 3245.27h-22.30M221.60 3173.35h12.30M1472.40 3173.35h-12.30M221.60 3101.44h22.30M1472.40 3101.44h-22.30" fill="none" stroke="#000" stroke-width="4.9"/>
<text class="sa" transform="translate(189.97 4089.30) scale(0.9578 1)" font-size="40.30">300</text>
<text class="sa" transform="translate(439.97 4089.30) scale(0.9578 1)" font-size="40.30">350</text>
<text class="sa" transform="translate(690.26 4089.30) scale(0.9578 1)" font-size="40.30">400</text>
<text class="sa" transform="translate(940.26 4089.30) scale(0.9578 1)" font-size="40.30">450</text>
<text class="sa" transform="translate(1189.97 4089.30) scale(0.9578 1)" font-size="40.30">500</text>
<text class="sa" transform="translate(1439.97 4089.30) scale(0.9578 1)" font-size="40.30">550</text>
<text class="sa" transform="translate(200.90 3974.60) scale(0.9578 1)" text-anchor="end" font-size="40.30">-3</text>
<text class="sa" transform="translate(200.90 3830.77) scale(0.9578 1)" text-anchor="end" font-size="40.30">-2</text>
<text class="sa" transform="translate(200.90 3686.95) scale(0.9578 1)" text-anchor="end" font-size="40.30">-1</text>
<text class="sa" transform="translate(200.90 3543.12) scale(0.9578 1)" text-anchor="end" font-size="40.30">0</text>
<text class="sa" transform="translate(200.90 3399.29) scale(0.9578 1)" text-anchor="end" font-size="40.30">1</text>
<text class="sa" transform="translate(200.90 3255.47) scale(0.9578 1)" text-anchor="end" font-size="40.30">2</text>
<text class="sa" transform="translate(200.90 3111.64) scale(0.9578 1)" text-anchor="end" font-size="40.30">3</text>
<text class="sa" transform="translate(659.59 4165.70) scale(0.9880 1)" font-size="49.00">Temperature (°C)</text>
<text class="sa" transform="translate(95.00 3719.63) rotate(-90) scale(0.9667 1)" font-size="49.50">Heat Flow (W/g)</text>
<path d="M221.6 3559.1C234.7 3558.6 273.9 3557.1 300.0 3556.1C326.1 3555.1 380.0 3552.7 420.0 3551.3C460.0 3549.9 657.0 3543.6 667.0 3543.2C677.0 3542.8 688.7 3541.4 697.0 3540.5C705.3 3539.6 713.6 3537.8 722.0 3537.5C730.4 3537.2 768.7 3537.8 792.0 3537.5C815.3 3537.2 842.0 3536.1 867.0 3535.5C892.0 3534.9 940.3 3533.5 952.0 3533.5C963.7 3533.5 975.3 3535.3 987.0 3535.5C998.7 3535.7 1032.6 3535.1 1034.5 3535.0C1036.4 3534.9 1038.2 3534.0 1040.0 3533.5C1041.8 3533.0 1044.0 3532.2 1046.0 3531.8C1048.0 3531.4 1050.0 3531.0 1052.0 3531.0C1054.0 3531.0 1056.0 3531.5 1058.0 3531.8C1060.0 3532.1 1068.2 3533.7 1073.3 3534.2C1078.4 3534.7 1095.5 3536.2 1106.7 3536.8C1117.9 3537.4 1144.4 3537.9 1150.0 3538.2C1155.6 3538.5 1161.1 3539.8 1166.7 3540.2C1172.3 3540.5 1182.2 3540.2 1186.7 3540.5C1191.2 3540.8 1196.7 3541.9 1200.1 3542.7C1203.5 3543.5 1208.4 3545.4 1210.1 3546.1C1211.8 3546.8 1213.5 3547.7 1215.0 3548.7C1216.5 3549.6 1218.0 3550.7 1219.4 3551.9C1220.8 3553.1 1222.1 3554.4 1223.3 3555.8C1224.5 3557.1 1225.8 3558.8 1226.9 3560.3C1228.0 3561.8 1229.1 3563.3 1230.0 3565.0C1230.9 3566.6 1232.0 3568.7 1232.8 3570.4C1233.6 3572.0 1234.3 3573.8 1235.0 3575.5C1235.7 3577.1 1236.5 3578.7 1237.0 3580.5C1237.5 3582.2 1239.2 3590.4 1240.3 3595.4C1241.4 3600.4 1242.7 3605.5 1243.7 3610.5C1244.7 3615.5 1245.4 3620.6 1246.2 3625.6C1247.0 3630.6 1247.9 3637.9 1248.7 3644.1C1249.5 3650.2 1250.4 3658.6 1251.2 3665.9C1252.0 3673.1 1253.0 3681.5 1253.8 3689.3C1254.6 3697.1 1255.2 3705.0 1255.8 3712.8C1256.4 3720.6 1256.9 3728.4 1257.4 3736.3C1257.9 3744.1 1258.6 3751.9 1259.1 3759.7C1259.6 3767.6 1260.2 3778.6 1260.6 3786.5C1261.0 3794.4 1261.1 3802.3 1261.4 3810.2C1261.7 3818.1 1262.5 3838.1 1263.0 3852.0C1263.5 3866.0 1263.9 3880.8 1264.3 3893.9C1264.7 3906.9 1265.3 3925.4 1265.6 3933.0C1265.9 3940.7 1266.2 3951.0 1266.5 3956.0C1266.8 3961.0 1267.3 3968.2 1267.5 3971.0C1267.7 3973.8 1268.3 3978.7 1268.4 3979.5C1268.5 3980.3 1268.8 3981.8 1269.0 3981.8C1269.2 3981.8 1269.5 3980.3 1269.6 3979.5C1269.7 3978.7 1270.1 3972.7 1270.2 3969.3C1270.3 3965.9 1270.7 3947.0 1270.9 3935.8C1271.1 3924.7 1271.4 3907.8 1271.7 3893.9C1272.0 3879.9 1272.3 3866.0 1272.6 3852.0C1272.9 3838.1 1273.4 3818.1 1273.6 3810.2C1273.8 3802.3 1273.7 3794.4 1273.9 3786.5C1274.1 3778.6 1274.4 3766.4 1274.7 3756.3C1275.0 3746.3 1275.3 3735.7 1275.6 3726.2C1275.9 3716.7 1276.3 3707.2 1276.7 3697.7C1277.1 3688.2 1277.6 3678.7 1278.1 3669.2C1278.6 3659.8 1279.3 3646.3 1279.8 3639.1C1280.3 3631.8 1280.8 3624.6 1281.4 3617.3C1282.0 3610.1 1283.2 3599.4 1283.6 3595.4C1284.0 3591.4 1284.6 3586.2 1285.0 3583.4C1285.4 3580.7 1286.0 3578.1 1286.5 3575.4C1287.0 3572.7 1287.5 3569.1 1288.0 3566.5C1288.5 3563.8 1289.2 3560.8 1289.8 3558.6C1290.4 3556.4 1291.2 3553.7 1291.8 3552.0C1292.4 3550.2 1293.2 3548.6 1294.0 3546.9C1294.8 3545.2 1295.7 3543.1 1296.7 3541.5C1297.7 3539.9 1299.1 3537.9 1300.0 3536.8C1300.9 3535.7 1301.9 3534.6 1303.0 3533.8C1304.1 3533.0 1305.4 3532.3 1306.7 3531.8C1308.0 3531.3 1310.2 3530.5 1312.0 3530.1C1313.8 3529.7 1316.2 3529.4 1318.3 3529.1C1320.4 3528.8 1324.8 3528.2 1328.0 3527.9C1331.2 3527.6 1334.7 3527.5 1338.0 3527.3C1341.3 3527.2 1347.1 3526.9 1351.7 3526.8C1356.3 3526.7 1385.0 3525.9 1401.7 3525.4C1418.4 3524.9 1462.6 3523.6 1474.8 3523.2" fill="none" stroke="#000" stroke-width="2.0" stroke-linejoin="round"/>
<path d="M221.6 3543.0C243.6 3542.1 309.4 3539.2 353.3 3537.3C397.2 3535.4 495.8 3531.0 518.0 3530.0C540.2 3529.0 562.5 3527.4 584.7 3526.7C606.9 3526.0 684.6 3524.7 701.3 3524.3C718.0 3523.9 734.6 3523.2 751.3 3522.7C768.0 3522.2 811.5 3521.2 816.0 3521.0C820.5 3520.8 826.0 3519.6 829.3 3519.3C832.6 3519.0 836.0 3518.5 839.3 3518.7C842.6 3518.9 850.4 3520.2 856.0 3520.7C861.6 3521.2 869.3 3522.1 876.0 3522.0C882.7 3521.9 907.0 3520.2 909.3 3520.0C911.6 3519.8 913.8 3518.7 916.0 3518.2C918.2 3517.7 920.4 3516.9 922.7 3516.7C925.0 3516.5 940.4 3515.9 949.3 3515.7C958.2 3515.5 976.0 3515.2 986.0 3515.3C996.0 3515.4 1008.0 3515.9 1016.0 3516.3C1024.0 3516.7 1036.6 3517.6 1040.0 3517.9C1043.4 3518.2 1047.7 3519.3 1050.0 3519.8C1052.3 3520.3 1054.5 3520.9 1056.7 3521.7C1058.9 3522.5 1060.9 3523.5 1063.0 3524.5C1065.1 3525.5 1068.2 3527.2 1070.0 3528.3C1071.8 3529.4 1073.4 3530.7 1075.0 3532.0C1076.6 3533.3 1078.5 3534.9 1080.0 3536.7C1081.5 3538.5 1083.5 3541.5 1085.0 3544.0C1086.5 3546.5 1088.7 3550.8 1090.0 3553.3C1091.3 3555.8 1092.5 3558.4 1093.5 3561.0C1094.5 3563.6 1095.7 3567.0 1096.7 3570.0C1097.7 3573.0 1098.5 3576.3 1099.3 3579.5C1100.1 3582.7 1101.0 3586.7 1101.7 3590.0C1102.4 3593.3 1103.1 3596.7 1103.7 3600.0C1104.3 3603.3 1106.6 3616.8 1107.9 3625.2C1109.2 3633.6 1110.7 3644.2 1112.1 3653.7C1113.5 3663.2 1114.9 3673.8 1116.3 3683.9C1117.7 3694.0 1120.0 3710.6 1120.5 3714.1C1121.0 3717.6 1121.8 3721.9 1122.3 3724.5C1122.8 3727.1 1123.4 3730.6 1123.8 3732.2C1124.2 3733.8 1124.9 3736.0 1125.2 3737.0C1125.5 3738.0 1126.1 3739.3 1126.5 3739.8C1126.9 3740.3 1127.5 3740.9 1128.0 3741.0C1128.5 3741.1 1128.9 3740.6 1129.2 3740.2C1129.5 3739.8 1130.0 3739.2 1130.2 3738.6C1130.4 3738.0 1130.9 3735.9 1131.2 3734.6C1131.5 3733.3 1132.0 3731.0 1132.2 3729.2C1132.4 3727.4 1133.4 3719.1 1133.9 3714.1C1134.4 3709.1 1135.3 3700.7 1135.9 3694.0C1136.5 3687.3 1137.0 3678.3 1137.6 3670.5C1138.2 3662.7 1138.8 3654.8 1139.3 3647.0C1139.8 3639.2 1140.2 3631.3 1140.6 3623.5C1141.0 3615.7 1141.4 3606.7 1141.8 3600.0C1142.2 3593.3 1142.9 3584.7 1143.3 3580.0C1143.7 3575.3 1144.2 3570.2 1144.6 3566.0C1145.0 3561.8 1145.5 3556.9 1146.0 3553.3C1146.5 3549.7 1147.1 3545.6 1147.6 3542.5C1148.1 3539.4 1148.7 3536.1 1149.3 3533.3C1149.9 3530.5 1150.8 3527.3 1151.5 3525.0C1152.2 3522.7 1153.2 3520.0 1154.0 3518.3C1154.8 3516.6 1156.1 3514.7 1157.0 3513.5C1157.9 3512.3 1158.8 3511.0 1160.0 3510.0C1161.2 3509.0 1162.6 3508.2 1164.0 3507.5C1165.4 3506.8 1166.8 3506.1 1168.3 3505.7C1169.8 3505.3 1172.7 3504.7 1175.0 3504.3C1177.3 3503.9 1180.5 3503.6 1183.3 3503.3C1186.1 3503.0 1200.0 3501.4 1206.7 3500.7C1213.4 3500.0 1225.2 3498.8 1226.7 3498.7C1228.2 3498.6 1229.7 3499.5 1231.0 3499.8C1232.3 3500.1 1233.6 3500.4 1235.0 3500.5C1236.4 3500.6 1247.1 3501.0 1250.0 3500.7C1252.9 3500.4 1255.5 3499.0 1258.3 3498.3C1261.1 3497.6 1269.4 3496.0 1273.3 3495.0C1277.2 3494.0 1281.1 3492.7 1285.0 3491.7C1288.9 3490.7 1307.0 3485.3 1318.3 3483.3C1329.6 3481.3 1351.6 3478.9 1368.3 3476.7C1385.0 3474.5 1401.6 3472.0 1418.3 3470.0C1435.0 3468.0 1465.4 3464.8 1474.8 3463.7" fill="none" stroke="#0000ff" stroke-width="3.9" stroke-linejoin="round"/>
<path d="M221.6 3531.0C245.7 3529.6 317.9 3525.4 366.0 3522.5C414.1 3519.6 501.3 3514.5 518.0 3513.4C534.7 3512.3 551.3 3509.8 568.0 3508.7C584.7 3507.6 623.5 3505.5 651.3 3504.3C679.1 3503.1 729.7 3501.7 751.3 3500.7C772.9 3499.7 799.3 3497.7 816.0 3497.0C832.7 3496.3 849.3 3496.4 866.0 3495.7C882.7 3495.0 903.8 3492.9 922.7 3492.3C941.6 3491.7 980.4 3491.8 989.3 3492.0C998.2 3492.2 1011.3 3493.6 1016.0 3494.0C1020.7 3494.4 1026.6 3495.3 1030.0 3495.8C1033.4 3496.3 1037.3 3497.0 1040.0 3497.7C1042.7 3498.4 1045.4 3499.5 1048.0 3500.5C1050.6 3501.5 1054.5 3503.0 1056.7 3504.0C1058.9 3505.0 1060.9 3506.3 1063.0 3507.5C1065.1 3508.7 1068.3 3510.5 1070.0 3511.7C1071.7 3512.9 1073.3 3514.2 1075.0 3515.5C1076.7 3516.8 1079.2 3518.8 1080.0 3519.3C1080.8 3519.8 1082.0 3520.3 1082.7 3520.5C1083.4 3520.7 1084.3 3521.0 1085.0 3520.8C1085.7 3520.6 1086.4 3520.2 1086.7 3519.5C1087.0 3518.8 1087.8 3515.4 1088.3 3513.3C1088.8 3511.2 1089.1 3509.1 1089.5 3507.0C1089.9 3504.9 1090.3 3502.0 1090.7 3500.0C1091.1 3498.0 1091.7 3495.9 1092.2 3494.0C1092.7 3492.1 1093.3 3489.8 1094.0 3488.3C1094.7 3486.8 1095.5 3485.2 1096.5 3484.0C1097.5 3482.8 1099.1 3481.6 1100.0 3481.0C1100.9 3480.4 1102.0 3479.9 1103.0 3479.5C1104.0 3479.1 1105.4 3478.6 1106.7 3478.3C1108.0 3478.0 1115.5 3476.5 1120.0 3476.0C1124.5 3475.5 1155.5 3472.3 1173.3 3470.7C1191.1 3469.1 1217.8 3467.0 1240.0 3465.0C1262.2 3463.0 1296.2 3459.8 1306.7 3458.7C1317.2 3457.6 1327.6 3456.3 1338.0 3455.0C1348.4 3453.7 1380.5 3449.3 1401.7 3446.7C1422.9 3444.1 1462.6 3439.5 1474.8 3438.0" fill="none" stroke="#008000" stroke-width="3.9" stroke-linejoin="round"/>
<path d="M221.6 3500.0C243.6 3497.9 309.4 3491.7 353.3 3487.3C397.2 3482.9 473.5 3474.8 518.0 3470.0C562.5 3465.2 612.4 3459.0 651.3 3455.0C690.2 3451.0 752.0 3445.4 768.0 3444.0C784.0 3442.6 800.0 3442.2 816.0 3440.7C832.0 3439.2 884.7 3433.9 909.3 3430.7C933.9 3427.5 963.6 3422.1 982.7 3419.3C1001.8 3416.5 1020.9 3414.1 1040.0 3411.7C1059.1 3409.3 1094.2 3405.3 1114.0 3402.7C1133.8 3400.1 1153.5 3396.8 1173.3 3394.0C1193.1 3391.2 1214.5 3389.0 1235.0 3385.7C1255.5 3382.4 1279.5 3377.9 1301.7 3373.3C1323.9 3368.7 1346.1 3363.3 1368.3 3358.3C1390.5 3353.3 1421.8 3346.2 1435.0 3343.3C1448.2 3340.4 1468.2 3336.6 1474.8 3335.2" fill="none" stroke="#ff0000" stroke-width="3.9" stroke-linejoin="round"/>
<text class="sa" transform="translate(1210.88 3325.50) scale(0.9796 1)" font-size="49.00" fill="#ff0000">0.15NbF<tspan x="188.05" y="18.70" font-size="28.20">5</tspan></text>
<text class="sa" transform="translate(1210.88 3430.50) scale(0.9796 1)" font-size="49.00" fill="#008000">0.1NbF<tspan x="161.72" y="18.70" font-size="28.20">5</tspan></text>
<text class="sa" transform="translate(875.48 3618.30) scale(0.9796 1)" font-size="49.00" fill="#0000ff">0.02NbF<tspan x="188.56" y="19.40" font-size="28.20">5</tspan></text>
<text class="sa" transform="translate(1293.46 3685.50) scale(0.9796 1)" font-size="49.00">NaBH<tspan x="130.61" y="19.40" font-size="28.20">4</tspan></text>
<path d="M288.90 3868.30V3961.30" stroke="#000" stroke-width="5.6" stroke-linecap="round" fill="none"/>
<path d="M281.70 3956.80H296.10L289.90 3983.30H287.90Z" fill="#000" stroke="#000" stroke-width="3" stroke-linejoin="round"/>
<text class="sa" transform="translate(312.96 3934.90) scale(0.9796 1)" font-size="49.00">Endo</text>
<text class="se" transform="translate(635.34 4369.59) scale(0.9187 1)" font-size="86.22">(</text>
<text class="seb" transform="translate(660.89 4370.75) scale(1.0400 1)" font-size="85.42">e</text>
<text class="se" transform="translate(703.73 4369.59) scale(0.9145 1)" font-size="86.22">)</text>
<text class="se" transform="translate(745.59 4370.30) scale(1.0675 1)" font-size="70.50" style="word-spacing:-0.06em">Group 5</text>
</g>
</svg></body></html>
